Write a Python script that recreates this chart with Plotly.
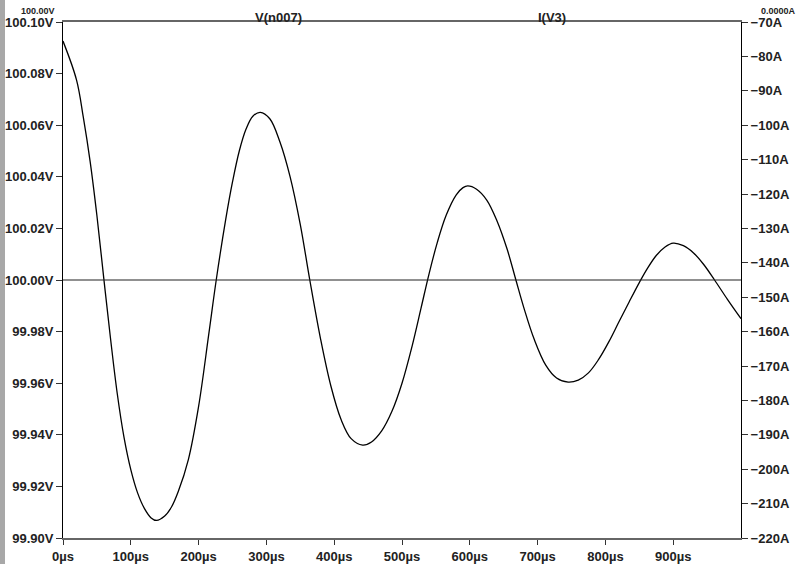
import plotly.graph_objects as go

# time in µs and V(n007) in volts
t_us = [0, 20, 30, 40, 50, 60, 70, 80, 90, 100, 110, 120, 130, 138,
        150, 160, 170, 185, 200, 215, 226, 240, 250, 260, 270, 280, 291,
        305, 320, 335, 350, 364, 380, 395, 410, 425, 442,
        455, 470, 485, 500, 515, 528, 540, 552, 565, 580, 590, 597,
        610, 625, 640, 655, 668, 680, 695, 712, 728, 745,
        760, 775, 790, 805, 820, 835, 850, 862, 875, 888, 900,
        915, 930, 945, 961, 980, 1000]
v_n007 = [100.0926, 100.0775, 100.0630, 100.0460, 100.0250, 100.0010,
          99.9775, 99.9560, 99.9390, 99.9265, 99.9175, 99.9115, 99.9078, 99.9068,
          99.9085, 99.9120, 99.9180, 99.9305, 99.9510, 99.9790, 100.0000,
          100.0235, 100.0380, 100.0500, 100.0585, 100.0635, 100.0650,
          100.0625, 100.0535, 100.0400, 100.0215, 100.0000, 99.9770, 99.9590,
          99.9460, 99.9385, 99.9360,
          99.9372, 99.9415, 99.9490, 99.9600, 99.9745, 99.9890, 100.0025,
          100.0145, 100.0250, 100.0330, 100.0358, 100.0365,
          100.0352, 100.0310, 100.0230, 100.0120, 100.0000, 99.9890, 99.9770,
          99.9670, 99.9620, 99.9604,
          99.9612, 99.9640, 99.9692, 99.9760, 99.9838, 99.9915, 99.9990,
          100.0045, 100.0095, 100.0128, 100.0143,
          100.0133, 100.0105, 100.0060, 100.0000, 99.9925, 99.9850]

# I(V3), flat
t_i = [0, 1000]
i_v3 = [-145, -145]

x_ticks = [0, 100, 200, 300, 400, 500, 600, 700, 800, 900]
x_labels = [f"{v}µs" for v in x_ticks]

FONT = dict(family="Liberation Sans, Arial, sans-serif", size=13, color="#222222")
TICKFONT = dict(FONT, weight="bold")

fig = go.Figure()
fig.add_trace(go.Scatter(x=t_us, y=v_n007, mode="lines",
                         line=dict(color="black", width=1.3, shape="spline", smoothing=1.0),
                         name="V(n007)", yaxis="y"))
fig.add_trace(go.Scatter(x=t_i, y=i_v3, mode="lines", line=dict(color="#222222", width=1.1),
                         name="I(V3)", yaxis="y2"))

fig.update_layout(
    width=799, height=564,
    margin=dict(l=63, r=58, t=22, b=26),
    paper_bgcolor="white", plot_bgcolor="white",
    showlegend=False,
    font=FONT,
    xaxis=dict(range=[0, 1000], tickvals=x_ticks, ticktext=x_labels, showgrid=False, zeroline=False,
               ticks="outside", ticklen=5, tickcolor="#333333", showline=True, mirror=True,
               linecolor="#666666", linewidth=2, tickfont=TICKFONT, automargin=False),
    yaxis=dict(range=[99.90, 100.10], dtick=0.02, tick0=99.90, tickformat=".2f", ticksuffix="V",
               showgrid=False, zeroline=False, ticks="outside", ticklen=6, tickcolor="#333333",
               showline=True, linecolor="black", linewidth=1, tickfont=TICKFONT, automargin=False),
    yaxis2=dict(range=[-220, -70], dtick=10, tick0=-220, ticksuffix="A", overlaying="y", side="right",
                showgrid=False, zeroline=False, ticks="outside", ticklen=6, tickcolor="#333333",
                showline=True, linecolor="black", linewidth=1, tickfont=TICKFONT, automargin=False),
    annotations=[
        dict(text="<b>V(n007)</b>", xref="paper", yref="paper", x=(253 - 63) / 678, y=1.0, yshift=14,
             showarrow=False, font=FONT),
        dict(text="<b>I(V3)</b>", xref="paper", yref="paper", x=(568 - 63) / 678, y=1.0, yshift=14,
             showarrow=False, font=FONT),
        # cursor readouts sitting at the very top edge
        dict(text="<b>100.00V</b>", xref="paper", yref="paper", x=(56 - 63) / 678, y=1.0, yshift=17,
             xanchor="right", showarrow=False, borderpad=0, font=dict(FONT, size=9)),
        dict(text="<b>0.0000A</b>", xref="paper", yref="paper", x=(797 - 63) / 678, y=1.0, yshift=17,
             xanchor="right", showarrow=False, borderpad=0, font=dict(FONT, size=9)),
    ],
    shapes=[
        dict(type="rect", xref="paper", yref="paper", x0=-63 / 678, x1=-58 / 678, y0=-0.06, y1=1.06,
             fillcolor="#a8a8a8", line=dict(width=0)),
    ],
)

# page body has a default 8px margin; drop it so the figure sits at the window corner
fig.write_html("out.html", config={"displayModeBar": False},
               post_script="document.body.style.margin='0';")
